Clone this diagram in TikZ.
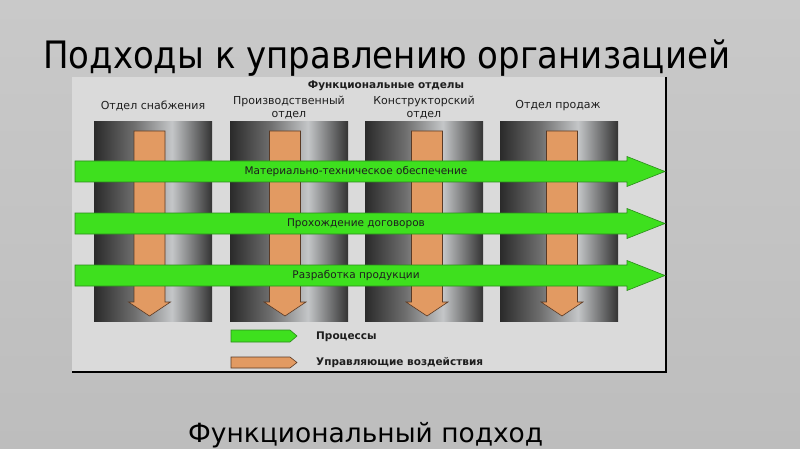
\documentclass[tikz,border=0pt]{standalone}
\usepackage{fontspec}
\setmainfont{DejaVu Sans}
\newfontfamily\titlefont[FakeStretch=0.9]{DejaVu Sans}
\definecolor{slideTop}{HTML}{C9C9C9}
\definecolor{slideBot}{HTML}{BDBDBD}
\definecolor{panelfill}{HTML}{DADADA}
\definecolor{cA}{HTML}{2A2A2A}
\definecolor{cB}{HTML}{6E6E6E}
\definecolor{cC}{HTML}{C4C6C8}
\definecolor{cD}{HTML}{333333}
\definecolor{grfill}{HTML}{3EE01E}
\definecolor{grline}{HTML}{2C8A1C}
\definecolor{orfill}{HTML}{E29A62}
\definecolor{orline}{HTML}{5A3A25}
\definecolor{txt}{HTML}{1E1E1E}
\pgfdeclarehorizontalshading{colshade}{100bp}{color(0bp)=(cA); color(25bp)=(cA); color(42bp)=(cB); color(58bp)=(cC); color(75bp)=(cD); color(100bp)=(cD)}
\begin{document}
\begin{tikzpicture}[x=1pt,y=-1pt,
  lbl/.style={inner sep=0pt, text=txt, font=\fontsize{11}{12.5}\selectfont, align=center},
  arrlbl/.style={inner sep=0pt, text=txt, font=\fontsize{10.5}{12}\selectfont},
  leglbl/.style={inner sep=0pt, text=txt, anchor=west, font=\fontsize{10.5}{12}\selectfont\bfseries},
  greenarrow/.style={fill=grfill, draw=grline, line width=0.6pt},
  orangearrow/.style={fill=orfill, draw=orline, line width=0.6pt},
  column/.style={shading=colshade}]
\useasboundingbox (0,0) rectangle (800,449);
\shade[top color=slideTop, bottom color=slideBot] (0,0) rectangle (800,449);
% panel
\fill[panelfill] (72,77) rectangle (666,371);
\draw[black, line width=1.3pt] (666,77) -- (666,372) -- (72,372);
% columns
\foreach \x in {94,230,365,500}
  \shade[column] (\x,122) rectangle ++(118,199);
% orange (control) arrows
\foreach \c in {149.5,285,427,562}
  \draw[orangearrow] (\c-15.5,131) -- (\c+15.5,131) -- (\c+15.5,302) -- (\c+21,302)
     -- (\c,316) -- (\c-21,302) -- (\c-15.5,302) -- cycle;
% green (process) arrows
\foreach \y in {171.5,223.5,275.5}
  \draw[greenarrow] (75,\y-10.5) -- (627,\y-10.5) -- (627,\y-15) -- (665,\y)
     -- (627,\y+15) -- (627,\y+10.5) -- (75,\y+10.5) -- cycle;
% labels
\node[lbl, font=\fontsize{10.5}{12}\selectfont\bfseries] (head) at (386,86) {Функциональные отделы};
\node[lbl] (l1) at (153,106) {Отдел снабжения};
\node[lbl] (l2) at (289,107.5) {Производственный\\отдел};
\node[lbl] (l3) at (424,107.5) {Конструкторский\\отдел};
\node[lbl] (l4) at (558,106) {Отдел продаж};
\node[arrlbl] (p1) at (356,172) {Материально-техническое обеспечение};
\node[arrlbl] (p2) at (356,224) {Прохождение договоров};
\node[arrlbl] (p3) at (356,276) {Разработка продукции};
% legend
\draw[greenarrow] (231,330) -- (290,330) -- (297,336) -- (290,342) -- (231,342) -- cycle;
\draw[orangearrow] (231,357) -- (290,357) -- (297,362.5) -- (290,368) -- (231,368) -- cycle;
\node[leglbl] (lg1) at (316,337) {Процессы};
\node[leglbl] (lg2) at (316,363) {Управляющие воздействия};
% slide texts
\node[anchor=base west, inner sep=0pt, text=black] (title) at (43,69)
  {\resizebox{687pt}{!}{\titlefont\fontsize{37}{40}\selectfont Подходы к управлению организацией}};
\node[anchor=base west, inner sep=0pt, text=black] (caption) at (188,442)
  {\resizebox{355pt}{!}{\fontsize{26}{30}\selectfont Функциональный подход}};
\end{tikzpicture}
\end{document}
